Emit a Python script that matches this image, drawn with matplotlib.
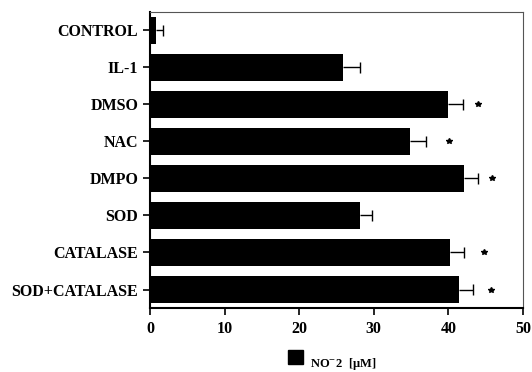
import numpy as np
import matplotlib
matplotlib.use("Agg")
import matplotlib.pyplot as plt

plt.rcParams['font.family'] = ['Liberation Serif', 'DejaVu Serif']
plt.rcParams['mathtext.fontset'] = 'stix'

# data
groups = ['CONTROL', 'IL-1', 'DMSO', 'NAC', 'DMPO', 'SOD', 'CATALASE', 'SOD+CATALASE']
no2 = [0.8, 25.9, 39.9, 34.9, 42.1, 28.1, 40.2, 41.4]
sem = [0.9, 2.2, 2.1, 2.1, 1.9, 1.7, 1.9, 1.9]
# x position of the significance stars (None = no star)
star_x = [None, None, 44.0, 40.1, 45.8, None, 44.8, 45.7]
xticks = [0, 10, 20, 30, 40, 50]

fig = plt.figure(figsize=(5.32, 3.72), dpi=100)
ax = fig.add_axes([0.282, 0.172, 0.701, 0.796])

y = np.arange(len(groups))
ax.barh(y, no2, height=0.72, color='black', zorder=2)
# one-sided error bars: line from bar end plus a single cap
tops = np.array(no2) + np.array(sem)
ax.hlines(y, no2, tops, color='black', linewidth=1.0, zorder=3)
ax.vlines(tops, y - 0.14, y + 0.14, color='black', linewidth=1.0, zorder=3)

for yi, sx in zip(y, star_x):
    if sx is not None:
        ax.plot(sx, yi, marker='*', color='black', markersize=4, zorder=3)

ax.set_xlim(0, 50)
ax.set_ylim(len(groups) - 0.5, -0.5)
ax.set_xticks(xticks)
ax.set_xticklabels([str(t) for t in xticks], fontsize=11.5, fontweight='bold')
ax.set_yticks(y)
ax.set_yticklabels(groups, fontsize=11.5, fontweight='bold')
ax.tick_params(axis='both', direction='out', length=5, width=1.2, color='black')
ax.tick_params(axis='x', pad=4)

ax.spines['left'].set_linewidth(1.5)
ax.spines['bottom'].set_linewidth(1.5)
ax.spines['top'].set_linewidth(0.8)
ax.spines['top'].set_color('#555555')
ax.spines['right'].set_linewidth(0.8)
ax.spines['right'].set_color('#555555')

# legend-like key below the axis
fig.patches.append(plt.Rectangle((288 / 532, 1 - 364 / 372), 15 / 532, 14 / 372,
                                 transform=fig.transFigure, color='black'))
fig.text(310 / 532, 1 - 367 / 372, 'NO$^{-}$2  [\u03bcM]', fontsize=9,
         fontweight='bold', va='baseline', ha='left')

fig.savefig('out.png', dpi=100)
